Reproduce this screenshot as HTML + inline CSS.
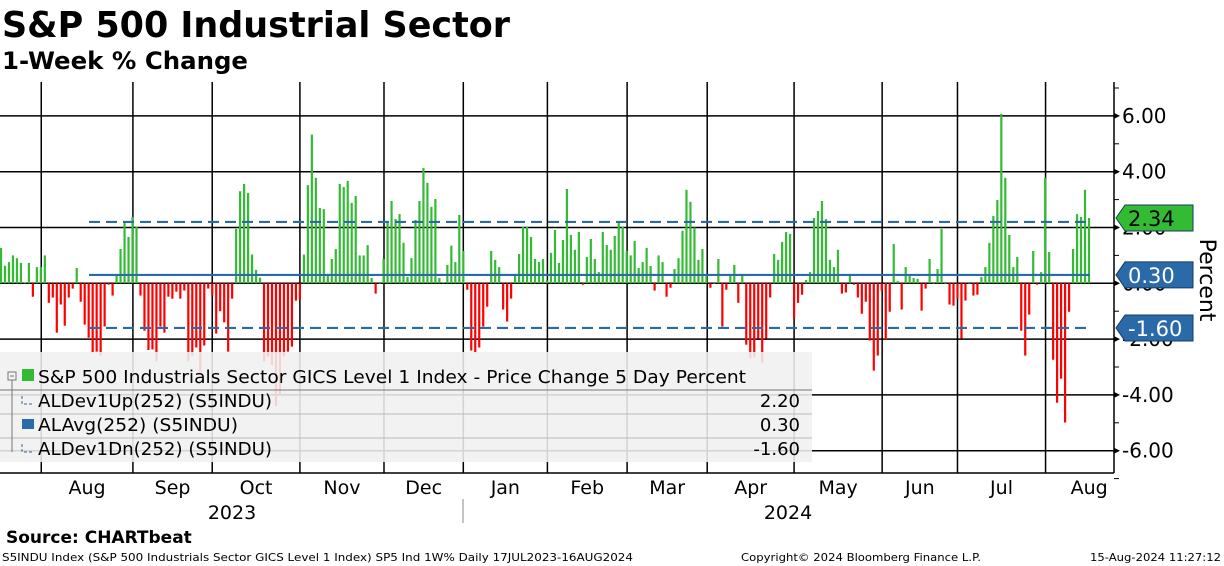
<!DOCTYPE html>
<html><head><meta charset="utf-8"><style>
html,body{margin:0;padding:0;background:#fff;}
svg{display:block;font-family:"DejaVu Sans","Liberation Sans",sans-serif;}
</style></head><body>
<svg id="chart" width="1224" height="566" viewBox="0 0 1224 566">
<text x="2" y="37" font-size="36" font-weight="bold" textLength="508" lengthAdjust="spacingAndGlyphs">S&amp;P 500 Industrial Sector</text>
<text x="2" y="69" font-size="24" font-weight="bold" textLength="246" lengthAdjust="spacingAndGlyphs">1-Week % Change</text>
<g id="grid"></g>
<g id="bars"></g>
<g id="stats"></g>
<g>
<rect x="0" y="352" width="812" height="110" fill="#f0f0f0" fill-opacity="0.88"/>
<line x1="0" y1="390" x2="812" y2="390" stroke="#777" stroke-width="1"/>
<line x1="0" y1="414" x2="812" y2="414" stroke="#bbb" stroke-width="1"/>
<line x1="0" y1="438" x2="812" y2="438" stroke="#bbb" stroke-width="1"/>
<rect x="8" y="372" width="8" height="8" fill="none" stroke="#777"/>
<line x1="10" y1="376" x2="14" y2="376" stroke="#777"/>
<line x1="12" y1="380" x2="12" y2="452" stroke="#777"/>
<rect x="22" y="369" width="12" height="12" fill="#33bb33"/>
<text x="38" y="383" font-size="18" textLength="708" lengthAdjust="spacingAndGlyphs">S&amp;P 500 Industrials Sector GICS Level 1 Index - Price Change 5 Day Percent</text>
<path d="M22 396 v8 h10" fill="none" stroke="#2a6aa8" stroke-dasharray="3,2"/>
<text x="38" y="407" font-size="18" textLength="234" lengthAdjust="spacingAndGlyphs">ALDev1Up(252) (S5INDU)</text>
<text x="800" y="407" font-size="18" text-anchor="end">2.20</text>
<rect x="22" y="419" width="12" height="10" fill="#2a6aa8"/>
<text x="38" y="431" font-size="18" textLength="200" lengthAdjust="spacingAndGlyphs">ALAvg(252) (S5INDU)</text>
<text x="800" y="431" font-size="18" text-anchor="end">0.30</text>
<path d="M22 444 v8 h10" fill="none" stroke="#2a6aa8" stroke-dasharray="3,2"/>
<text x="38" y="455" font-size="18" textLength="234" lengthAdjust="spacingAndGlyphs">ALDev1Dn(252) (S5INDU)</text>
<text x="800" y="455" font-size="18" text-anchor="end">-1.60</text>
</g>
<g id="axis"></g>
<g id="xaxis"></g>
<text transform="translate(1200,280) rotate(90)" font-size="22" text-anchor="middle">Percent</text>
<text x="6" y="543" font-size="17" font-weight="bold">Source: CHARTbeat</text>
<text x="2" y="561" font-size="11" textLength="631" lengthAdjust="spacingAndGlyphs">S5INDU Index (S&amp;P 500 Industrials Sector GICS Level 1 Index) SP5 Ind 1W%  Daily 17JUL2023-16AUG2024</text>
<text x="741" y="561" font-size="11" textLength="240" lengthAdjust="spacingAndGlyphs">Copyright© 2024 Bloomberg Finance L.P.</text>
<text x="1090" y="561" font-size="11" textLength="131" lengthAdjust="spacingAndGlyphs">15-Aug-2024 11:27:12</text>
</svg>
<script>
const values = [1.27,0.63,0.76,1.0,0.9,0.73,0.02,0.73,-0.48,0.58,0.58,1.0,-0.7,-0.51,-1.77,-0.76,-1.52,-0.51,-0.19,0.55,-0.66,-1.48,-1.95,-2.48,-2.45,-2.6,-1.55,-0.05,-0.44,0.33,1.23,2.16,1.66,2.38,2.02,-0.44,-1.7,-2.39,-2.37,-2.8,-1.55,-1.77,-0.48,-0.55,-0.3,-0.55,-0.26,-2.8,
-2.6,-2.3,-3.2,-2.23,-0.19,-0.44,-1.8,-1.0,-1.4,-2.45,-0.55,1.95,3.3,3.56,3.24,1.03,0.48,0.2,-2.8,-2.63,-2.93,-4.4,-4.0,-2.63,-2.45,-2.27,-0.62,-0.59,1.03,3.52,5.33,3.78,2.7,2.66,0.3,0.87,1.23,3.56,3.45,3.67,2.88,3.13,1.0,1.0,1.37,0.19,
-0.37,0,0.87,2.16,2.95,2.3,2.48,1.45,0.23,0.9,2.27,2.95,4.13,3.6,2.74,3.02,0.19,0.02,0.66,1.35,0.76,2.45,1.16,-0.23,-2.41,-2.48,-2.3,-1.55,-0.84,1.16,0.84,0.58,-0.94,-1.37,-0.55,0.26,1.05,2.02,2.02,1.66,0.87,0.76,0.87,0.1,1.09,1.91,0.73,
1.55,3.38,1.73,1.2,1.84,-0.05,0.94,1.59,0.87,0.4,1.84,1.37,1.2,1.7,2.16,2.02,1.16,1.0,1.52,0.55,0.76,1.27,0.62,-0.26,1.0,0.76,-0.48,-0.16,0.51,0.9,1.88,3.35,2.92,2.0,0.84,1.23,0.26,-0.16,0,0.87,-1.55,-0.23,0.3,0.66,-0.7,0.26,
-2.2,-2.7,-2.66,-1.98,-2.84,-1.98,-0.51,1.05,0.84,1.48,1.84,1.77,-1.27,-0.7,-0.41,0.12,0.4,2.34,2.59,2.95,2.3,0.84,0.58,1.2,-0.37,-0.33,0.26,-0.05,-0.51,-1.09,-0.66,-2.05,-3.13,-2.59,-0.26,-2.02,-1.02,1.41,0.08,-0.94,0.58,0.26,0.19,0.16,-0.98,-0.19,0.87,
0,0.51,1.95,0,-0.76,-0.8,-0.55,-1.98,-0.62,0,-0.44,-0.41,0.23,0.58,1.45,2.41,2.99,6.07,3.78,1.73,0.58,0.94,-1.7,-2.59,-1.12,1.16,-0.05,0.4,3.78,1.12,-2.74,-4.28,-3.42,-4.99,-1.02,1.23,2.48,2.38,3.35,2.34];
const devUp = 2.20;
const avgVal = 0.30;
const devDn = -1.60;
const lastVal = 2.34;
const yTicks = [6,4,2,0,-2,-4,-6];
const yTickLabels = ["6.00","4.00","2.00","0.00","-2.00","-4.00","-6.00"];
const monthLabels = ["Aug","Sep","Oct","Nov","Dec","Jan","Feb","Mar","Apr","May","Jun","Jul","Aug"];
const monthBoundary = [10.1,33.1,53,75,96.1,116,137.1,157.1,177.2,199,221.1,240,262.1,284];

const NS="http://www.w3.org/2000/svg";
const X0=1, X1=1089, AX=1114, TOP=82, BOT=473;
const n=values.length, pitch=(X1-X0)/(n-1);
function xs(i){return X0+i*pitch;}
function ys(v){return 283.3-v*27.9;}
function mk(tag,attrs,parent){const e=document.createElementNS(NS,tag);for(const k in attrs)e.setAttribute(k,attrs[k]);parent.appendChild(e);return e;}
const grid=document.getElementById('grid');
yTicks.forEach(t=>{
  const l=mk('line',{x1:0,x2:AX,y1:ys(t),y2:ys(t),stroke:'#000','stroke-width':1.5},grid);
  
  
});
monthBoundary.slice(0,13).forEach(i=>{
  const x=xs(i);
  const l=mk('line',{x1:x,x2:x,y1:TOP,y2:BOT,stroke:'#000','stroke-width':1.5},grid);
  
  
});
const bars=document.getElementById('bars');
values.forEach((v,i)=>{
  const y0=ys(0), y1=ys(v);
  const r=mk('rect',{x:xs(i)-1.1,width:2.2,y:Math.min(y0,y1),height:Math.max(Math.abs(y1-y0),0.6),fill:v>=0?'#33bb33':'#ff0000'},bars);
  
  
});
const stats=document.getElementById('stats');
const sx1=89, sx2=1090;
[[devUp,'dev-up-line',true],[avgVal,'average-line',false],[devDn,'dev-down-line',true]].forEach(([v,nm,d])=>{
  const l=mk('line',{x1:sx1,x2:sx2,y1:ys(v),y2:ys(v),stroke:'#2a6aa8','stroke-width':2.2},stats);
  if(d)l.setAttribute('stroke-dasharray','11,6');
  
  
});
const ax=document.getElementById('axis');
mk('line',{x1:AX,x2:AX,y1:TOP,y2:BOT,stroke:'#000','stroke-width':1.5},ax);
for(let v=-7;v<=7;v++){mk('line',{x1:AX,x2:AX+5,y1:ys(v),y2:ys(v),stroke:'#000'},ax);}
yTicks.forEach((t,k)=>{
  mk('path',{d:`M${AX} ${ys(t)-3} L${AX+6} ${ys(t)} L${AX} ${ys(t)+3}Z`,fill:'#000'},ax);
  const tx=mk('text',{x:AX+8,y:ys(t)+7,'font-size':20},ax);
  tx.textContent=yTickLabels[k];
  
  
});
function tag(v,txt,fill,col,nm){
  const y=ys(v);
  const g=mk('g',{},ax);
  
  
  mk('path',{d:`M${AX+2} ${y} L${AX+11} ${y-13} L${AX+79} ${y-13} L${AX+79} ${y+13} L${AX+11} ${y+13}Z`,fill:fill,stroke:'#1a3a60','stroke-width':1},g);
  const t=mk('text',{x:AX+14,y:y+8,'font-size':21,fill:col},g);
  t.textContent=txt;
}
tag(lastVal,lastVal.toFixed(2),'#33bb33','#000','last-value-tag');
tag(avgVal,avgVal.toFixed(2),'#2a6aa8','#fff','average-tag');
tag(devDn,devDn.toFixed(2),'#2a6aa8','#fff','dev-down-tag');
const xa=document.getElementById('xaxis');
mk('line',{x1:0,x2:AX,y1:BOT,y2:BOT,stroke:'#000','stroke-width':1.5},xa);
monthLabels.forEach((m,k)=>{
  const a=xs(monthBoundary[k]);
  const b=xs(monthBoundary[k+1]);
  const t=mk('text',{x:(a+b)/2,y:494,'font-size':19,'text-anchor':'middle'},xa);
  t.textContent=m;
  
  
});
const y1t=mk('text',{x:232,y:519,'font-size':19,'text-anchor':'middle'},xa);y1t.textContent='2023';


const y2t=mk('text',{x:788,y:519,'font-size':19,'text-anchor':'middle'},xa);y2t.textContent='2024';


mk('line',{x1:463,x2:463,y1:499,y2:523,stroke:'#888'},xa);
</script>
</body></html>
